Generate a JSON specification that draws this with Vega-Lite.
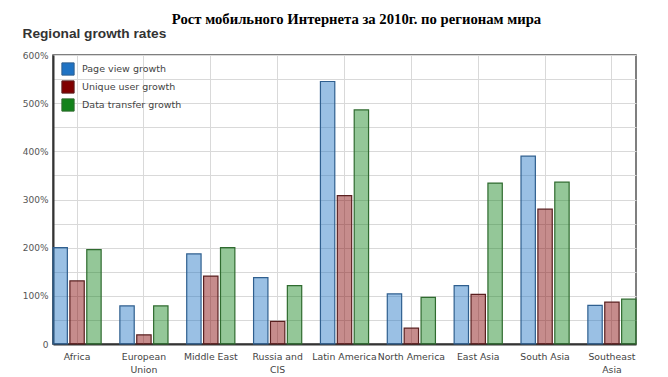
{
  "$schema": "https://vega.github.io/schema/vega-lite/v6.json",
  "autosize": "none",
  "width": 583,
  "height": 289,
  "padding": {"left": 53, "top": 55, "right": 32, "bottom": 33},
  "background": "white",
  "title": {
    "text": "Рост мобильного Интернета за 2010г. по регионам мира",
    "font": "Liberation Serif",
    "fontSize": 14.7,
    "fontWeight": "bold",
    "color": "#000000",
    "anchor": "middle",
    "frame": "group",
    "baseline": "alphabetic",
    "offset": -13,
    "dx": 12
  },
  "data": {
    "values": [
      {"region": "Africa", "series": "Page view growth", "value": 200},
      {"region": "Africa", "series": "Unique user growth", "value": 131},
      {"region": "Africa", "series": "Data transfer growth", "value": 196},
      {"region": "European Union", "series": "Page view growth", "value": 79},
      {"region": "European Union", "series": "Unique user growth", "value": 19},
      {"region": "European Union", "series": "Data transfer growth", "value": 79},
      {"region": "Middle East", "series": "Page view growth", "value": 187},
      {"region": "Middle East", "series": "Unique user growth", "value": 141},
      {"region": "Middle East", "series": "Data transfer growth", "value": 200},
      {"region": "Russia and CIS", "series": "Page view growth", "value": 138},
      {"region": "Russia and CIS", "series": "Unique user growth", "value": 47},
      {"region": "Russia and CIS", "series": "Data transfer growth", "value": 121},
      {"region": "Latin America", "series": "Page view growth", "value": 545},
      {"region": "Latin America", "series": "Unique user growth", "value": 308},
      {"region": "Latin America", "series": "Data transfer growth", "value": 486},
      {"region": "North America", "series": "Page view growth", "value": 104},
      {"region": "North America", "series": "Unique user growth", "value": 33},
      {"region": "North America", "series": "Data transfer growth", "value": 97},
      {"region": "East Asia", "series": "Page view growth", "value": 121},
      {"region": "East Asia", "series": "Unique user growth", "value": 103},
      {"region": "East Asia", "series": "Data transfer growth", "value": 334},
      {"region": "South Asia", "series": "Page view growth", "value": 390},
      {"region": "South Asia", "series": "Unique user growth", "value": 280},
      {"region": "South Asia", "series": "Data transfer growth", "value": 336},
      {"region": "Southeast Asia", "series": "Page view growth", "value": 80},
      {"region": "Southeast Asia", "series": "Unique user growth", "value": 87},
      {"region": "Southeast Asia", "series": "Data transfer growth", "value": 93}
    ]
  },
  "mark": {"type": "bar", "fillOpacity": 0.45, "strokeWidth": 1.2},
  "encoding": {
    "x": {
      "field": "region",
      "type": "nominal",
      "sort": null,
      "scale": {"paddingInner": 0.28, "paddingOuter": 0},
      "axis": {
        "title": null,
        "grid": true,
        "bandPosition": 0.5,
        "gridColor": "#d9d9d9",
        "ticks": false,
        "domainColor": "#333333",
        "domainWidth": 2,
        "labelAngle": 0,
        "labelFont": "DejaVu Sans",
        "labelFontSize": 9.3,
        "labelColor": "#444444",
        "labelPadding": 8,
        "labelLineHeight": 13,
        "labelBaseline": "top",
        "labelOverlap": false,
        "labelExpr": "datum.label == 'European Union' ? ['European', 'Union'] : datum.label == 'Russia and CIS' ? ['Russia and', 'CIS'] : datum.label == 'Southeast Asia' ? ['Southeast', 'Asia'] : datum.label"
      }
    },
    "xOffset": {
      "field": "series",
      "type": "nominal",
      "sort": ["Page view growth", "Unique user growth", "Data transfer growth"],
      "scale": {"paddingInner": 0.15, "paddingOuter": 0}
    },
    "y": {
      "field": "value",
      "type": "quantitative",
      "scale": {"domain": [0, 600], "nice": false},
      "axis": {
        "values": [0, 50, 100, 150, 200, 250, 300, 350, 400, 450, 500, 550, 600],
        "labelExpr": "datum.value == 0 ? '0' : datum.value % 100 == 0 ? datum.value + '%' : ''",
        "gridColor": "#d9d9d9",
        "ticks": false,
        "domainColor": "#333333",
        "domainWidth": 2,
        "labelFont": "DejaVu Sans",
        "labelFontSize": 9,
        "labelColor": "#555555",
        "labelPadding": 5,
        "title": "Regional growth rates",
        "titleAngle": 0,
        "titleAlign": "left",
        "titleBaseline": "alphabetic",
        "titleX": -31,
        "titleY": -18,
        "titleFont": "Liberation Sans",
        "titleFontSize": 13.7,
        "titleFontWeight": "bold",
        "titleColor": "#333333"
      }
    },
    "color": {
      "field": "series",
      "type": "nominal",
      "sort": ["Page view growth", "Unique user growth", "Data transfer growth"],
      "scale": {
        "domain": ["Page view growth", "Unique user growth", "Data transfer growth"],
        "range": ["#1f73c4", "#800000", "#12821a"]
      },
      "legend": {
        "title": null,
        "orient": "none",
        "legendX": 8,
        "legendY": 7,
        "padding": 0,
        "symbolType": "square",
        "symbolSize": 150,
        "symbolStrokeColor": "#d0d0d0",
        "symbolStrokeWidth": 1,
        "rowPadding": 0,
        "labelFont": "DejaVu Sans",
        "labelFontSize": 9.5,
        "labelColor": "#444444",
        "labelOffset": 7,
        "encode": {"symbols": {"update": {"fillOpacity": {"value": 1}, "opacity": {"value": 1}}}}
      }
    },
    "stroke": {
      "field": "series",
      "type": "nominal",
      "scale": {
        "domain": ["Page view growth", "Unique user growth", "Data transfer growth"],
        "range": ["#2f5f8f", "#5a2020", "#2f6b2f"]
      },
      "legend": null
    }
  },
  "config": {
    "view": {"stroke": "#555555", "strokeWidth": 1.5}
  }
}
